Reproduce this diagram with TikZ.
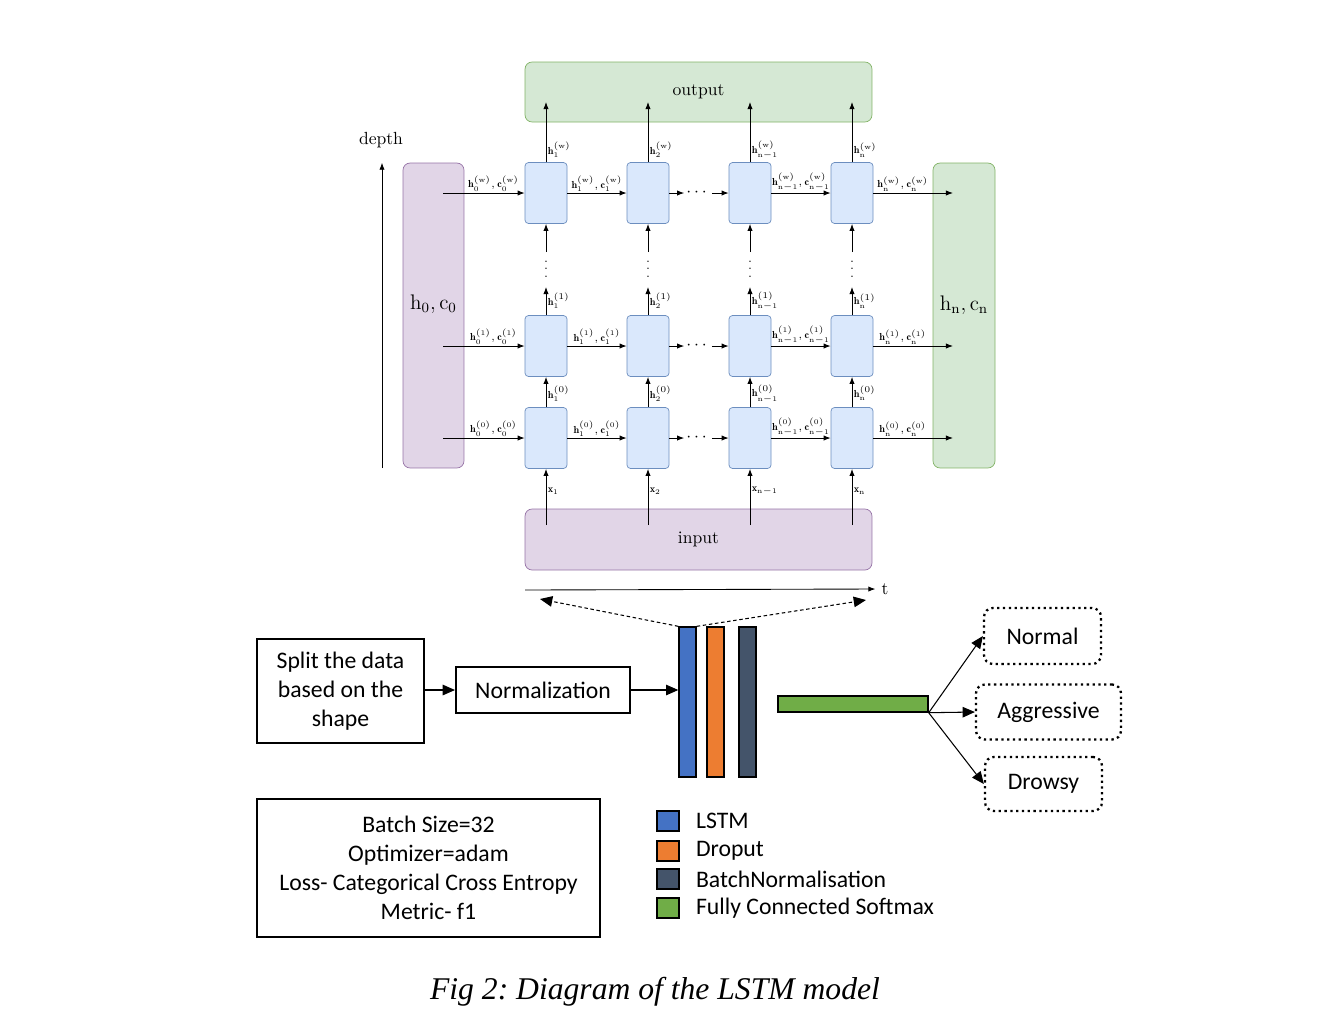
\documentclass[tikz,border=0pt]{standalone}
\usepackage{amsmath}
\usepackage{fontspec}
\setsansfont{Carlito}
\newfontfamily\captionfont{Liberation Serif}
\usetikzlibrary{arrows.meta,positioning,calc}

\definecolor{cellfill}{HTML}{DAE8FC}
\definecolor{celldraw}{HTML}{6C8EBF}
\definecolor{grnfill}{HTML}{D5E8D4}
\definecolor{grndraw}{HTML}{82B366}
\definecolor{purfill}{HTML}{E1D5E7}
\definecolor{purdraw}{HTML}{9673A6}
\definecolor{lstmblue}{HTML}{4472C4}
\definecolor{droporange}{HTML}{ED7D31}
\definecolor{bndark}{HTML}{44546A}
\definecolor{fcgreen}{HTML}{70AD47}

\newcommand{\bodyfont}{\sffamily\fontsize{13.5}{16.5}\selectfont}
\newcommand{\hc}[2]{\mathbf{h}_{\mathrm{#1}}^{(\mathrm{#2})},\mathbf{c}_{\mathrm{#1}}^{(\mathrm{#2})}}

\begin{document}
\frenchspacing
\begin{tikzpicture}[x=0.02cm,y=-0.02cm,
		cell/.style={rectangle,rounded corners=2pt,draw=celldraw,fill=cellfill,minimum width=0.84cm,minimum height=1.22cm,inner sep=0mm},
		greenbox/.style={rectangle,rounded corners=4pt,draw=grndraw,fill=grnfill,inner sep=0mm},
		purplebox/.style={rectangle,rounded corners=4pt,draw=purdraw,fill=purfill,inner sep=0mm},
		arr/.style={-{Latex[length=4pt,width=3pt]},line width=0.5pt},
		bigarr/.style={-{Triangle[length=7pt,width=6pt]},line width=0.6pt},
		lbl/.style={font=\fontsize{5.8}{7}\selectfont,inner sep=0.8pt},
		textbox/.style={rectangle,draw=black,line width=1.2pt,font=\bodyfont,align=center,inner sep=0mm},
		classbox/.style={rectangle,rounded corners=5pt,draw=black,dotted,line width=1.3pt,font=\bodyfont,inner sep=0mm},
		layerbar/.style={rectangle,draw=black,line width=0.8pt,minimum width=0.34cm,minimum height=3cm,inner sep=0mm},
		swatch/.style={rectangle,draw=black,line width=0.8pt,minimum width=0.44cm,minimum height=0.4cm,inner sep=0mm}]

	\useasboundingbox (0,0) rectangle (1342,1032);

	% stacked lstm grid
	\node[greenbox,minimum width=6.94cm,minimum height=1.2cm] (output) at (698.5,92) {output};
	\node[purplebox,minimum width=6.94cm,minimum height=1.22cm] (input) at (698.5,539.5) {input};
	\node[purplebox,minimum width=1.22cm,minimum height=6.1cm,label={[yshift=6.5pt]center:{\large$\mathrm{h_0,c_0}$}}] (init) at (433.5,315.5) {};
	\node[greenbox,minimum width=1.24cm,minimum height=6.1cm,label={[yshift=6pt]center:{\large$\mathrm{h_n,c_n}$}}] (final) at (964,315.5) {};

	\foreach \c/\x/\idx in {1/546/1,2/648/2,3/750/{n-1},4/852/n} {
		\node[cell] (w\c) at (\x,193) {};
		\node[cell] (m\c) at (\x,346) {};
		\node[cell] (b\c) at (\x,438) {};
		\coordinate (up\c) at (\x,102);
		\coordinate (in\c) at (\x,525);
		\coordinate (gap\c) at (\x,287);
		\coordinate (gapend\c) at (\x,252);
		\node[inner sep=0mm,font=\scriptsize] (vdots\c) at (\x,264) {$\vdots$};
		\draw[arr] (in\c) -- (b\c.south) node[lbl,right,pos=0.6] {$\mathbf{x}_{\mathrm{\idx}}$};
		\draw[arr] (b\c.north) -- (m\c.south) node[lbl,right,pos=0.45] {$\mathbf{h}_{\mathrm{\idx}}^{(0)}$};
		\draw[arr] (m\c.north) -- (gap\c) node[lbl,right,pos=0.5] {$\mathbf{h}_{\mathrm{\idx}}^{(1)}$};
		\draw[arr] (gapend\c) -- (w\c.south);
		\draw[arr] (w\c.north) -- (up\c) node[lbl,right,pos=0.2] {$\mathbf{h}_{\mathrm{\idx}}^{(\mathrm{w})}$};
	}

	\foreach \r/\y/\l in {w/193/w,m/346/1,b/438/0} {
		\coordinate (s\r) at (443,\y);
		\coordinate (e\r) at (953,\y);
		\node[inner sep=1pt] (dots\r) at (698,\y) {$\cdots$};
		\draw[arr] (s\r) -- (\r1.west) node[lbl,above,pos=0.62] {$\hc{0}{\l}$};
		\draw[arr] (\r1.east) -- (\r2.west) node[lbl,above,midway] {$\hc{1}{\l}$};
		\draw[arr] (\r2.east) -- (dots\r.west);
		\draw[arr] (dots\r.east) -- (\r3.west);
		\draw[arr] (\r3.east) -- (\r4.west) node[lbl,above,midway] {$\hc{n-1}{\l}$};
		\draw[arr] (\r4.east) -- (e\r) node[lbl,above,pos=0.37] {$\hc{n}{\l}$};
	}

	\node (depth) at (381,140) {depth};
	\coordinate (depthlow) at (382,468);
	\draw[arr] (depthlow) -- (depthlow |- init.north);

	\coordinate (tstart) at (525,590);
	\node (t) at (885,589) {t};
	\draw[arr] (tstart) -- (t.west);

	% model pipeline
	\node[textbox,minimum width=3.34cm,minimum height=2.08cm] (split) at (340.5,691) {Split the data\\based on the\\shape};
	\node[textbox,minimum width=3.48cm,minimum height=0.92cm] (norm) at (543,690) {Normalization};
	\node[layerbar,fill=lstmblue] (lstm) at (687.5,702) {};
	\node[layerbar,fill=droporange] (drop) at (715.5,702) {};
	\node[layerbar,fill=bndark] (bn) at (747.5,702) {};
	\node[layerbar,fill=fcgreen,minimum width=3cm,minimum height=0.32cm] (fc) at (853,704) {};

	\draw[bigarr] (split.east |- norm.west) -- (norm.west);
	\draw[bigarr] (norm.east) -- (norm.east -| lstm.west);

	\coordinate (tleft) at (540,599);
	\coordinate (tright) at (866,600);
	\draw[bigarr,dash pattern=on 2pt off 1.5pt] (lstm.north west) -- (tleft);
	\draw[bigarr,dash pattern=on 2pt off 1.5pt] (lstm.north east) -- (tright);

	\node[classbox,minimum width=2.34cm,minimum height=1.12cm] (normal) at (1042.5,636) {Normal};
	\node[classbox,minimum width=2.9cm,minimum height=1.1cm] (aggr) at (1048.5,712) {Aggressive};
	\node[classbox,minimum width=2.34cm,minimum height=1.08cm] (drowsy) at (1043.5,784) {Drowsy};
	\draw[bigarr] (fc.south east) -- (normal.west);
	\draw[bigarr] (fc.south east) -- (aggr.west);
	\draw[bigarr] (fc.south east) -- (drowsy.west);

	\node[textbox,minimum width=6.86cm,minimum height=2.76cm] (params) at (428.5,868) {Batch Size=32\\Optimizer=adam\\Loss- Categorical Cross Entropy\\Metric- f1};

	% legend
	\foreach \n/\y/\col/\txt in {1/821/lstmblue/LSTM,2/851/droporange/Droput,3/879/bndark/BatchNormalisation,4/908/fcgreen/Fully Connected Softmax} {
		\node[swatch,fill=\col] (swatch\n) at (668,\y) {};
		\node[right=0.32cm of swatch\n,font=\bodyfont,inner sep=0mm] (legend\n) {\txt};
	}

	\node[font=\captionfont\itshape\fontsize{18}{22}\selectfont] (caption) at (655,992) {Fig 2: Diagram of the LSTM model};
\end{tikzpicture}
\end{document}
